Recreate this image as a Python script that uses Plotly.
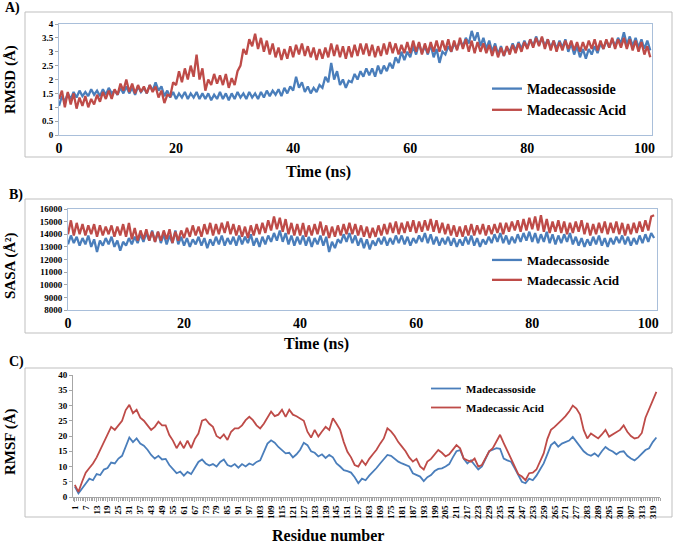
import plotly.graph_objects as go

# ---------------- data ----------------
time_ns = [i * 0.5 for i in range(203)]

rmsd_madecassoside = [
    1.05, 1.4, 1.2, 1.5, 1.3, 1.55, 1.35, 1.6, 1.4, 1.55,
    1.4, 1.65, 1.45, 1.6, 1.4, 1.65, 1.45, 1.7, 1.5, 1.6,
    1.45, 1.7, 1.5, 1.75, 1.5, 1.7, 1.45, 1.75, 1.55, 1.7,
    1.5, 1.8, 1.6, 1.9, 1.6, 1.75, 1.4, 1.6, 1.35, 1.55,
    1.3, 1.5, 1.35, 1.55, 1.3, 1.5, 1.35, 1.55, 1.3, 1.5,
    1.3, 1.5, 1.25, 1.45, 1.3, 1.55, 1.3, 1.5, 1.25, 1.5,
    1.3, 1.55, 1.35, 1.5, 1.3, 1.55, 1.35, 1.5, 1.3, 1.55,
    1.35, 1.6, 1.4, 1.6, 1.45, 1.65, 1.4, 1.7, 1.5, 1.75,
    1.6, 2.1, 1.7, 1.9, 1.55, 1.75, 1.5, 1.7, 1.55, 1.8,
    1.7, 2.1, 1.9, 2.6, 2.0, 2.3, 1.8, 2.0, 1.7, 1.95,
    1.9, 2.2, 2.0, 2.3, 2.1, 2.4, 2.15, 2.4, 2.1, 2.5,
    2.2, 2.5, 2.3, 2.6, 2.4, 2.8, 2.6, 3.0, 2.7, 3.0,
    2.8, 3.2, 2.9, 3.3, 2.95, 3.2, 2.9, 3.25, 2.8, 3.1,
    2.6, 3.0, 2.9, 3.2, 3.0, 3.3, 3.1, 3.4, 3.2, 3.5,
    3.3, 3.75, 3.4, 3.7, 3.2, 3.5, 3.1, 3.4, 3.0, 3.3,
    2.9, 3.2, 2.85, 3.15, 3.0, 3.3, 3.05, 3.35, 3.1, 3.4,
    3.15, 3.45, 3.2, 3.55, 3.25, 3.5, 3.2, 3.45, 3.15, 3.4,
    3.1, 3.4, 3.15, 3.45, 3.0, 3.3, 2.9, 3.2, 2.8, 3.1,
    2.75, 3.1, 2.9, 3.2, 2.95, 3.3, 3.1, 3.4, 3.15, 3.45,
    3.2, 3.5, 3.3, 3.7, 3.25, 3.55, 3.2, 3.5, 3.15, 3.45,
    3.1, 3.4, 3.05,
]

rmsd_madecassic_acid = [
    1.3, 1.6, 1.0, 1.55, 1.1, 1.5, 0.95, 1.35, 1.05, 1.4,
    1.0, 1.3, 1.1, 1.45, 1.2, 1.55, 1.3, 1.6, 1.3, 1.65,
    1.45, 1.85, 1.6, 2.0, 1.55, 1.85, 1.5, 1.8, 1.55, 1.75,
    1.5, 1.8, 1.55, 1.75, 1.35, 1.6, 1.15, 1.45, 1.4, 1.9,
    1.8, 2.3, 1.9, 2.4, 2.0, 2.5, 2.1, 2.9, 2.0, 2.4,
    1.6, 2.0, 1.8, 2.2, 1.85, 2.15, 1.8, 2.2, 1.7, 2.05,
    1.8, 2.3, 2.5, 3.1, 2.9, 3.45, 3.2, 3.65, 3.1, 3.5,
    3.0, 3.4, 2.9, 3.3, 2.8, 3.15, 2.7, 3.1, 2.75, 3.2,
    2.8, 3.25, 2.9, 3.3, 2.85, 3.2, 2.8, 3.15, 2.7, 3.1,
    2.75, 3.15, 2.8, 3.3, 2.85, 3.25, 2.8, 3.2, 2.75, 3.2,
    2.8, 3.25, 2.85, 3.3, 2.9, 3.3, 2.85, 3.25, 2.8, 3.2,
    2.85, 3.3, 2.9, 3.35, 2.95, 3.3, 2.9, 3.25, 2.95, 3.35,
    2.95, 3.4, 3.0, 3.35, 2.9, 3.3, 2.95, 3.35, 3.0, 3.4,
    3.0, 3.4, 3.05, 3.45, 3.0, 3.4, 3.05, 3.5, 3.1, 3.45,
    3.0, 3.4, 2.95, 3.35, 3.0, 3.3, 2.95, 3.25, 2.85, 3.2,
    2.8, 3.15, 2.85, 3.2, 2.9, 3.25, 2.95, 3.3, 3.0, 3.35,
    3.1, 3.45, 3.15, 3.5, 3.2, 3.55, 3.1, 3.45, 3.05, 3.4,
    3.0, 3.35, 3.05, 3.4, 3.1, 3.4, 3.05, 3.35, 3.0, 3.35,
    3.05, 3.4, 3.1, 3.45, 3.05, 3.4, 3.1, 3.45, 3.15, 3.5,
    3.1, 3.45, 3.15, 3.5, 3.1, 3.45, 3.05, 3.4, 3.0, 3.35,
    2.9, 3.2, 2.8,
]

sasa_madecassoside = [
    13200, 13900, 13300, 13800, 13100, 13700, 13200, 13900, 13000, 13600,
    12600, 13500, 13100, 13700, 13200, 13800, 13000, 13500, 12700, 13400,
    13100, 13700, 13200, 13800, 13300, 14000, 13400, 14100, 13500, 14300,
    13400, 14200, 13300, 14000, 13200, 13900, 13300, 14300, 13200, 13800,
    13100, 13700, 13000, 13600, 13200, 13800, 13100, 13700, 12900, 13600,
    13100, 13800, 13200, 13900, 13100, 13700, 13200, 13800, 13100, 13900,
    13200, 13800, 13300, 14000, 13100, 13700, 13000, 13800, 13200, 13900,
    13400, 14100, 13500, 14300, 13400, 14100, 13200, 13900, 13100, 13800,
    13200, 13900, 13100, 13800, 13000, 13700, 13200, 13900, 13100, 13800,
    12600, 13400, 12900, 13600, 13300, 14000, 13400, 14100, 13300, 13900,
    13100, 13700, 12900, 13600, 12800, 13500, 13100, 13700, 13200, 13800,
    13100, 13700, 13200, 13900, 13300, 13900, 13200, 13800, 13100, 13700,
    13300, 13900, 13400, 14100, 13300, 14000, 13200, 13800, 13100, 13700,
    13200, 13800, 13100, 13700, 13000, 13600, 13100, 13800, 13200, 13900,
    13100, 13700, 13000, 13600, 13200, 13800, 13300, 14000, 13400, 14100,
    13300, 13900, 13200, 13800, 13300, 14000, 13400, 14100, 13500, 14200,
    13400, 14100, 13300, 14000, 13400, 14200, 13300, 14000, 13200, 13900,
    13300, 14000, 13400, 14100, 13200, 13800, 13100, 13700, 13000, 13600,
    13100, 13800, 13200, 13900, 13100, 13700, 13000, 13700, 13200, 13800,
    13300, 13900, 13200, 13800, 13100, 13700, 13200, 13900, 13300, 14000,
    13400, 14100, 13700,
]

sasa_madecassic_acid = [
    14000, 15100, 13900, 14900, 14000, 14800, 13900, 14700, 14000, 14800,
    13800, 14700, 13900, 14600, 14000, 14700, 13800, 14600, 13900, 14800,
    13800, 14900, 13600, 14500, 13500, 14300, 13600, 14400, 13500, 14200,
    13400, 14200, 13500, 14300, 13600, 14400, 13300, 14200, 13500, 14300,
    13700, 14500, 13800, 14700, 13900, 14600, 13800, 14800, 14000, 14900,
    13900, 14800, 14000, 14900, 14100, 15000, 14000, 14800, 13900, 14700,
    13800, 14600, 13700, 14700, 13900, 14800, 14000, 14900, 14100, 15100,
    14300, 15400, 14400, 15300, 14200, 15200, 14000, 14900, 13900, 14800,
    13900, 14900, 13800, 14700, 13900, 14800, 14000, 15000, 13900, 14700,
    13700, 14600, 13800, 14700, 13900, 14800, 14000, 14900, 14000, 14800,
    13900, 14700, 13800, 14600, 13700, 14500, 13800, 14700, 13900, 14800,
    14000, 14900, 14100, 15000, 14000, 14900, 14100, 15000, 14200, 15100,
    14100, 15000, 14200, 15100, 14300, 15200, 14200, 15100, 14100, 14900,
    14000, 14800, 13900, 14700, 13800, 14600, 13800, 14700, 13900, 14800,
    13900, 14700, 14000, 14800, 13900, 14700, 14000, 14800, 14100, 14900,
    14000, 14900, 14200, 15000, 14300, 15100, 14200, 15200, 14300, 15300,
    14400, 15400, 14300, 15500, 14200, 15200, 14100, 15000, 14200, 15100,
    14100, 15000, 14000, 14900, 14100, 15000, 14200, 15100, 14000, 14900,
    13900, 14800, 14000, 14900, 14100, 15000, 14000, 14900, 14100, 15000,
    14000, 14900, 13900, 14800, 14000, 14900, 14100, 15000, 14200, 15100,
    14300, 15400, 15500,
]

residues = list(range(1, 322, 2))

rmsf_madecassoside = [
    3.4, 1.2, 2.8, 4.5, 6, 5.5, 7.5, 7.2, 9, 9.5,
    11.3, 11, 12.6, 13.5, 16.5, 19.5, 18, 19.2, 17.5, 16.8,
    15.5, 13.8, 12.6, 13.5, 12.3, 12.5, 10.5, 9, 7.8, 8.3,
    7, 8.2, 7.5, 9.5, 11.5, 12.3, 11, 10.3, 10.8, 10,
    11.5, 12.3, 10.5, 10, 10.8, 9.6, 10.8, 10, 11, 10.5,
    11.5, 12, 14.5, 17.5, 18.6, 17.8, 16.4, 15.5, 14.3, 14.5,
    13, 14, 15.5, 17.8, 17, 15, 14.5, 13.3, 14, 12.8,
    13.8, 13, 11, 10, 8.8, 8.5, 8, 6.5, 4.5, 6,
    5.5, 7, 8.2, 9.5, 11, 12.5, 13.8, 13.5, 12.5, 11.6,
    11, 10.5, 10, 7.8, 7.2, 6.7, 5.2, 6.5, 7.2, 8.5,
    9.2, 9.4, 10, 10.8, 13, 15, 15.4, 12.5, 11, 12,
    10.5, 9, 10, 12.5, 15, 15.5, 16, 15.8, 12.6, 12,
    11.6, 9.5, 7, 5, 4.5, 6, 5.5, 7, 9, 11,
    14, 17, 18, 16.5, 17.5, 18, 18.5, 19.7, 18, 16.5,
    15, 14, 13.5, 14.3, 13.3, 15, 16.4, 15.5, 14.9, 14,
    14.8, 15, 13.5, 12.6, 12, 13, 14.3, 15.4, 16, 18,
    19.5,
]

rmsf_madecassic_acid = [
    4, 1.7, 5, 8, 9.5, 11, 13, 15.5, 18, 21,
    23, 22, 23.5, 25, 28.5, 30.2, 27.5, 28.6, 26, 25,
    23.5, 22, 23, 24.7, 23.5, 23.5, 20.3, 18.5, 16, 18,
    16, 18.5, 16, 19, 20.8, 25, 25.5, 24, 23, 20,
    19.2, 20.5, 18.7, 21.4, 22.5, 22.5, 23.5, 25.2, 26.3, 25.2,
    23.5, 22.5, 24, 26, 28, 26.5, 27, 28.6, 26.3, 28.6,
    27, 26.5, 25.8, 25, 21.4, 19.5, 22, 19.8, 21.5, 23,
    22, 25.8, 24, 22, 18, 14.8, 13, 10.5, 10, 12,
    10.5, 12.5, 14, 15.5, 17.5, 19.2, 22.5, 21.5, 20, 18,
    16.5, 15, 13, 11.6, 12.5, 10, 9, 11.6, 12.5, 13.8,
    15.4, 14.5, 13.3, 14, 15.5, 17, 16, 12.6, 12, 11.6,
    12.6, 10, 10.5, 13, 15, 16, 18, 20.4, 17.7, 15,
    12.6, 10, 7.5, 6.7, 5.5, 7.8, 8, 9, 11.5, 14.3,
    19, 22, 23, 24, 25.3, 26.5, 28, 30, 29, 27,
    22, 19.2, 20.8, 20, 19.2, 20.5, 22, 19.8, 20.5, 21.4,
    22, 23.5, 21.4, 20, 19.2, 19.5, 21, 26, 29, 31.8,
    34.5,
]

residue_tick_vals = list(range(1, 320, 6))
residue_tick_labels = [str(v) for v in residue_tick_vals]
time_tick_vals = [0, 20, 40, 60, 80, 100]

BLUE = "#4A7EBB"
RED = "#BE4B48"
SERIF = "Liberation Serif"
W, H = 673, 543


def px(x):
    return x / W


def py(y):
    return 1 - y / H


fig = go.Figure()

# Panel A: RMSD
fig.add_trace(go.Scatter(x=time_ns, y=rmsd_madecassoside, mode="lines", name="Madecassoside",
                         line=dict(color=BLUE, width=2.3), xaxis="x", yaxis="y", legend="legend"))
fig.add_trace(go.Scatter(x=time_ns, y=rmsd_madecassic_acid, mode="lines", name="Madecassic Acid",
                         line=dict(color=RED, width=2.3), xaxis="x", yaxis="y", legend="legend"))
# Panel B: SASA
fig.add_trace(go.Scatter(x=time_ns, y=sasa_madecassoside, mode="lines", name="Madecassoside",
                         line=dict(color=BLUE, width=2.3), xaxis="x2", yaxis="y2", legend="legend2"))
fig.add_trace(go.Scatter(x=time_ns, y=sasa_madecassic_acid, mode="lines", name="Madecassic Acid",
                         line=dict(color=RED, width=2.3), xaxis="x2", yaxis="y2", legend="legend2"))
# Panel C: RMSF
fig.add_trace(go.Scatter(x=residues, y=rmsf_madecassoside, mode="lines", name="Madecassoside",
                         line=dict(color=BLUE, width=1.8), xaxis="x3", yaxis="y3", legend="legend3"))
fig.add_trace(go.Scatter(x=residues, y=rmsf_madecassic_acid, mode="lines", name="Madecassic Acid",
                         line=dict(color=RED, width=1.8), xaxis="x3", yaxis="y3", legend="legend3"))

plot_border = "#A9BFDA"
axis_grey = "#A6A6A6"
tick_small = dict(family=SERIF, size=9, color="black", weight="bold")
tick_big = dict(family=SERIF, size=14, color="black", weight="bold")

common_x = dict(showgrid=False, zeroline=False, showline=True, mirror=True, linecolor=plot_border,
                linewidth=1, ticks="", tickfont=tick_big, tickvals=time_tick_vals, automargin=False)
common_y = dict(showgrid=False, zeroline=False, showline=True, mirror=True, linecolor=plot_border,
                linewidth=1, ticks="outside", ticklen=3, tickcolor=axis_grey, tickfont=tick_small,
                automargin=False, exponentformat="none")

fig.update_layout(
    template="none",
    width=W, height=H,
    margin=dict(l=0, r=0, t=0, b=0, autoexpand=False),
    paper_bgcolor="white", plot_bgcolor="white",
    xaxis=dict(domain=[px(59), px(652)], range=[0, 101.3], anchor="y", **common_x),
    yaxis=dict(domain=[py(135), py(24)], range=[0, 4], dtick=0.5, anchor="x", **common_y),
    xaxis2=dict(domain=[px(68), px(657)], range=[0, 101.5], anchor="y2", **common_x),
    yaxis2=dict(domain=[py(310), py(209)], range=[8000, 16000], dtick=1000, anchor="x2",
                tickformat="d", **common_y),
    xaxis3=dict(domain=[px(73), px(660)], range=[0, 323], anchor="y3", showgrid=False, zeroline=False,
                showline=True, linecolor=axis_grey, linewidth=1, automargin=False,
                tickmode="array", tickvals=residue_tick_vals, ticktext=residue_tick_labels,
                tickangle=-90, ticks="outside", ticklen=4, tickcolor=axis_grey,
                tickfont=tick_small,
                minor=dict(ticks="outside", ticklen=3, tickcolor=axis_grey, tickmode="linear",
                           tick0=0, dtick=1)),
    yaxis3=dict(domain=[py(497), py(375)], range=[0, 40], dtick=5, anchor="x3", showgrid=False,
                zeroline=False, showline=True, linecolor=axis_grey, linewidth=1, ticks="outside",
                ticklen=3, tickcolor=axis_grey, tickfont=tick_small, automargin=False),
    legend=dict(x=px(487), y=py(73), xanchor="left", yanchor="top", bgcolor="rgba(0,0,0,0)",
                font=dict(family=SERIF, size=14, color="black", weight="bold"), itemwidth=30,
                tracegroupgap=0),
    legend2=dict(x=px(487), y=py(245), xanchor="left", yanchor="top", bgcolor="rgba(0,0,0,0)",
                 font=dict(family=SERIF, size=13, color="black", weight="bold"), itemwidth=30,
                 tracegroupgap=0),
    legend3=dict(x=px(426), y=py(374), xanchor="left", yanchor="top", bgcolor="rgba(0,0,0,0)",
                 font=dict(family=SERIF, size=11, color="black", weight="bold"), itemwidth=30,
                 tracegroupgap=0),
)

# outer chart borders
for (x0, y0, x1, y1) in [(25, 12, 672, 157), (25, 199, 672, 333), (25, 368, 672, 517)]:
    fig.add_shape(type="rect", xref="paper", yref="paper", x0=px(x0), x1=px(x1), y0=py(y1), y1=py(y0),
                  line=dict(color="#BFBFBF", width=1), fillcolor="rgba(0,0,0,0)", layer="below")


def ann(text, x, y, size, angle=0, xanchor="center"):
    fig.add_annotation(text=text, x=px(x), y=py(y), xref="paper", yref="paper", showarrow=False,
                       textangle=angle, xanchor=xanchor, yanchor="middle",
                       font=dict(family=SERIF, size=size, color="black", weight="bold"))


ann("A)", 3, 8, 14, xanchor="left")
ann("B)", 7, 195, 14, xanchor="left")
ann("C)", 7, 362, 14, xanchor="left")
ann("RMSD (Å)", 10, 80, 15, angle=-90)
ann("SASA (Å²)", 10, 266, 15, angle=-90)
ann("RMSF (Å)", 10, 442, 15, angle=-90)
ann("Time (ns)", 318, 172, 16)
ann("Time (ns)", 316, 344, 16)
ann("Residue number", 328, 535, 16)

# remove the browser's default page margin so the figure fills the window exactly
fig.write_html("out.html", config={"displayModeBar": False},
               post_script="document.body.style.margin='0px';")
